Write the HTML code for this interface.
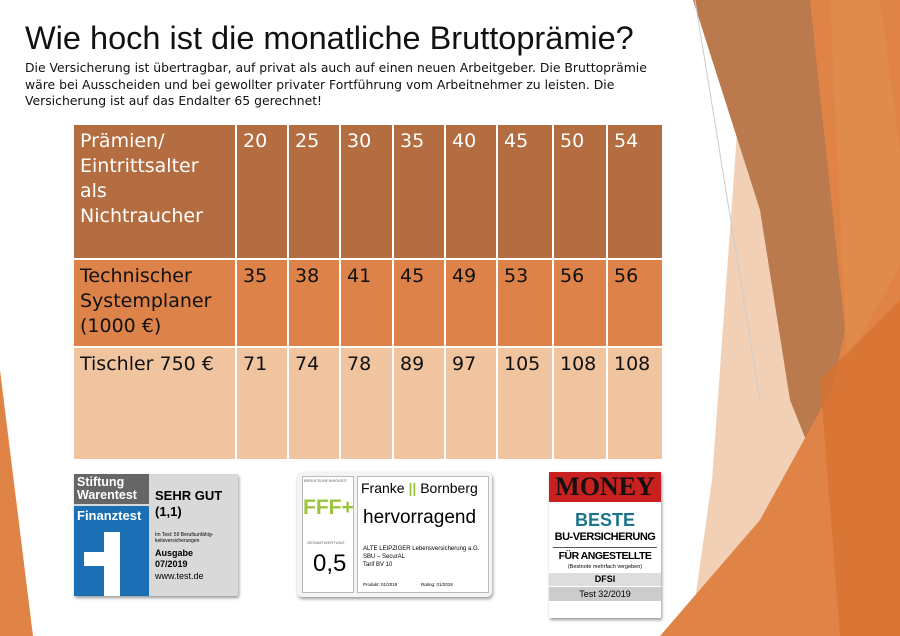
<!DOCTYPE html>
<html><head><meta charset="utf-8"><style>
body{margin:0;width:900px;height:636px;position:relative;overflow:hidden;background:#fff;font-family:"DejaVu Sans",sans-serif}
.t{position:absolute;left:25px;top:20px;font-family:"Liberation Sans",sans-serif;font-size:32.5px;color:#111;white-space:nowrap}
.p{position:absolute;left:25px;top:60px;font-size:12.4px;line-height:16.5px;color:#111;width:640px}
table{position:absolute;left:74px;top:125px;border-collapse:collapse;font-size:19px;line-height:25px;table-layout:fixed;width:589px}
td{vertical-align:top;padding:4px 6px;border:2px solid #fff;border-top:none;border-left:none;overflow:visible;white-space:nowrap}
.h td{background:#b46d40;color:#fff;height:125px}
.r1 td{background:#dd8248;color:#111;height:78px}
.r2 td{background:#f1c4a0;color:#111;height:103px}
.b{position:absolute;box-shadow:1px 2px 3px #999}
</style></head><body>
<svg style="position:absolute;left:0;top:0" width="900" height="636">
<polygon points="0,370 33,636 0,636" fill="#df8446"/>
<polygon points="805,0 900,0 900,636 840,636" fill="#df8446"/>
<polygon points="830,0 880,0 900,150 900,636 860,636" fill="#e08a4c"/>
<polygon points="737,133 790,300 835,400 800,520 720,636 690,636 712,480" fill="#f0c8a8" opacity="0.85"/>
<polygon points="693,0 810,0 845,330 830,400 810,450 790,400 760,210" fill="#bb7a4d"/>
<polygon points="900,265 900,636 660,636 760,520" fill="#df8446"/>
<polygon points="820,380 900,300 900,636 840,636" fill="#d7702e" opacity="0.7"/>
<line x1="695" y1="0" x2="760" y2="400" stroke="#ccc" stroke-width="1"/>
</svg>
<div class="t">Wie hoch ist die monatliche Bruttoprämie?</div>
<div class="p">Die Versicherung ist übertragbar, auf privat als auch auf einen neuen Arbeitgeber. Die Bruttoprämie wäre bei Ausscheiden und bei gewollter privater Fortführung vom Arbeitnehmer zu leisten. Die Versicherung ist auf das Endalter 65 gerechnet!</div>
<table>
<colgroup><col style="width:162px"><col style="width:52px"><col style="width:52px"><col style="width:53px"><col style="width:52px"><col style="width:52px"><col style="width:56px"><col style="width:54px"><col style="width:56px"></colgroup>
<tr class="h"><td>Prämien/<br>Eintrittsalter<br>als<br>Nichtraucher</td><td>20</td><td>25</td><td>30</td><td>35</td><td>40</td><td>45</td><td>50</td><td>54</td></tr>
<tr class="r1"><td>Technischer<br>Systemplaner<br>(1000 €)</td><td>35</td><td>38</td><td>41</td><td>45</td><td>49</td><td>53</td><td>56</td><td>56</td></tr>
<tr class="r2"><td>Tischler 750 €</td><td>71</td><td>74</td><td>78</td><td>89</td><td>97</td><td>105</td><td>108</td><td>108</td></tr>
</table>
<div class="b" style="left:74px;top:474px;width:164px;height:122px;background:#d9d9d9;font-family:'Liberation Sans',sans-serif">
 <div style="position:absolute;left:0;top:0;width:75px;height:30px;background:#666;color:#fff;font-size:12.5px;line-height:13px;font-weight:bold;padding:2px 3px;box-sizing:border-box">Stiftung<br>Warentest</div>
 <div style="position:absolute;left:0;top:32px;width:75px;height:90px;background:#1a6fb5"></div>
 <div style="position:absolute;left:3px;top:34px;color:#fff;font-size:13px;font-weight:bold">Finanztest</div>
 <div style="position:absolute;left:10px;top:78px;width:36px;height:14px;background:#fff"></div>
 <div style="position:absolute;left:30px;top:58px;width:16px;height:64px;background:#fff"></div>
 <div style="position:absolute;left:81px;top:14px;font-size:13px;font-weight:bold;line-height:16px">SEHR GUT<br>(1,1)</div>
 <div style="position:absolute;left:81px;top:58px;font-size:5px;line-height:6px">Im Test: 59 Berufsunfähig-<br>keitsversicherungen</div>
 <div style="position:absolute;left:81px;top:74px;font-size:9px;font-weight:bold;line-height:11px">Ausgabe<br>07/2019</div>
 <div style="position:absolute;left:81px;top:97px;font-size:9px">www.test.de</div>
</div>
<div class="b" style="left:297px;top:472px;width:195px;height:125px;background:#f4f4f4;border-radius:5px;font-family:'Liberation Sans',sans-serif">
 <div style="position:absolute;left:5px;top:4px;width:50px;height:115px;background:#fff;border:1px solid #bbb"></div>
 <div style="position:absolute;left:7px;top:6px;font-size:4px;color:#666">BERUFSUNFÄHIGKEIT</div>
 <div style="position:absolute;left:6px;top:24px;font-size:21px;color:#9bc43c;font-weight:bold">FFF+</div>
 <div style="position:absolute;left:10px;top:68px;font-size:4px;color:#666">GESAMTWERTUNG</div>
 <div style="position:absolute;left:16px;top:78px;font-size:24px">0,5</div>
 <div style="position:absolute;left:60px;top:4px;width:130px;height:115px;background:#fff;border:1px solid #bbb"></div>
 <div style="position:absolute;left:64px;top:8px;font-size:14px;white-space:nowrap">Franke <span style="color:#9bc43c;font-weight:bold">||</span> Bornberg</div>
 <div style="position:absolute;left:66px;top:35px;font-size:19px">hervorragend</div>
 <div style="position:absolute;left:66px;top:73px;font-size:6px;line-height:8px">ALTE LEIPZIGER Lebensversicherung a.G.<br>SBU – SecurAL<br>Tarif BV 10</div>
 <div style="position:absolute;left:66px;top:110px;font-size:4.5px">Produkt: 01/2019 &nbsp; &nbsp; &nbsp; &nbsp; &nbsp; &nbsp; &nbsp; &nbsp; &nbsp; Rating: 01/2019</div>
</div>
<div class="b" style="left:549px;top:472px;width:112px;height:146px;background:#fff;font-family:'Liberation Sans',sans-serif;text-align:center;white-space:nowrap">
 <div style="height:30px;background:#c8201e;color:#111;font-family:'Liberation Serif',serif;font-size:26px;line-height:30px;font-weight:bold">MONEY</div>
 <div style="color:#1b7489;font-size:18px;font-weight:900;margin-top:8px;line-height:20px">BESTE</div>
 <div style="font-size:11px;font-weight:bold;line-height:14px;letter-spacing:-0.5px">BU-VERSICHERUNG</div>
 <div style="border-top:1px solid #555;margin:3px 4px 0;font-size:10.5px;font-weight:bold;line-height:16px;letter-spacing:-0.5px">FÜR ANGESTELLTE</div>
 <div style="font-size:5.5px">(Bestnote mehrfach vergeben)</div>
 <div style="background:#ddd;font-size:9px;font-weight:bold;margin-top:3px;line-height:13px">DFSI</div>
 <div style="background:#ccc;font-size:9px;line-height:14px;margin-top:1px">Test 32/2019</div>
</div>
</body></html>
